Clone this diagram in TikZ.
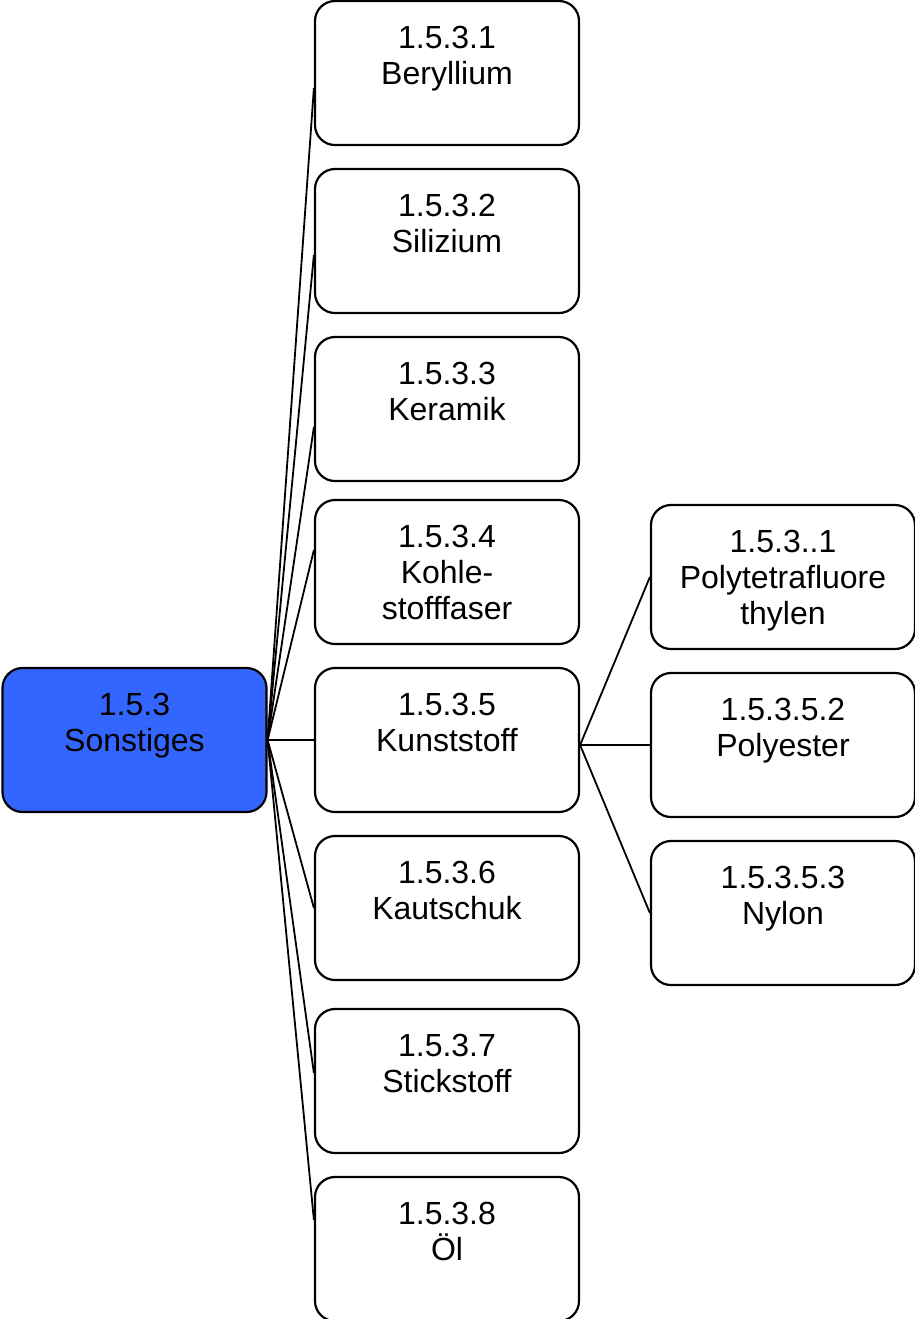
\documentclass[tikz,border=0pt]{standalone}
\usepackage{fontspec}
\setmainfont{Liberation Sans}
\definecolor{rootblue}{HTML}{3366FF}
\begin{document}
\begin{tikzpicture}[x=0.5pt,y=-0.5pt,
  box/.style={draw=black, line width=1.1pt, rounded corners=10pt,
    minimum width=132pt, minimum height=72pt, inner sep=0pt, fill=white},
  rootbox/.style={box, fill=rootblue},
  lbl/.style={anchor=north, inner sep=0pt, align=center,
    font=\fontsize{16}{18}\selectfont},
  link/.style={draw=black, line width=0.9pt}]
\useasboundingbox (0,0) rectangle (915,1319);

% root
\node[rootbox] (r) at (134.5,740) {};
\node[lbl] (rt) at ([yshift=-12.8pt]r.north) {1.5.3\\Sonstiges};

% first level
\node[box] (b1) at (447,73) {};
\node[box] (b2) at (447,241) {};
\node[box] (b3) at (447,409) {};
\node[box] (b4) at (447,572) {};
\node[box] (b5) at (447,740) {};
\node[box] (b6) at (447,908) {};
\node[box] (b7) at (447,1081) {};
\node[box] (b8) at (447,1249) {};

\node[lbl] (t1) at ([yshift=-12.8pt]b1.north) {1.5.3.1\\Beryllium};
\node[lbl] (t2) at ([yshift=-12.8pt]b2.north) {1.5.3.2\\Silizium};
\node[lbl] (t3) at ([yshift=-12.8pt]b3.north) {1.5.3.3\\Keramik};
\node[lbl] (t4) at ([yshift=-12.8pt]b4.north) {1.5.3.4\\Kohle-\\stofffaser};
\node[lbl] (t5) at ([yshift=-12.8pt]b5.north) {1.5.3.5\\Kunststoff};
\node[lbl] (t6) at ([yshift=-12.8pt]b6.north) {1.5.3.6\\Kautschuk};
\node[lbl] (t7) at ([yshift=-12.8pt]b7.north) {1.5.3.7\\Stickstoff};
\node[lbl] (t8) at ([yshift=-12.8pt]b8.north) {1.5.3.8\\Öl};

% second level
\node[box] (c1) at (783,577) {};
\node[box] (c2) at (783,745) {};
\node[box] (c3) at (783,913) {};

\node[lbl] (u1) at ([yshift=-12.8pt]c1.north) {1.5.3..1\\Polytetrafluore\\thylen};
\node[lbl] (u2) at ([yshift=-12.8pt]c2.north) {1.5.3.5.2\\Polyester};
\node[lbl] (u3) at ([yshift=-12.8pt]c3.north) {1.5.3.5.3\\Nylon};

% connectors
\draw[link] (r.east) -- ([yshift=-7.5pt]b1.west);
\draw[link] (r.east) -- ([yshift=-7pt]b2.west);
\draw[link] (r.east) -- ([yshift=-9pt]b3.west);
\draw[link] (r.east) -- ([yshift=11pt]b4.west);
\draw[link] (r.east) -- (b5.west);
\draw[link] (r.east) -- (b6.west);
\draw[link] (r.east) -- ([yshift=4pt]b7.west);
\draw[link] (r.east) -- ([yshift=14.5pt]b8.west);

\draw[link] ([yshift=-2.5pt]b5.east) -- (c1.west);
\draw[link] ([yshift=-2.5pt]b5.east) -- (c2.west);
\draw[link] ([yshift=-2.5pt]b5.east) -- (c3.west);
\end{tikzpicture}
\end{document}
